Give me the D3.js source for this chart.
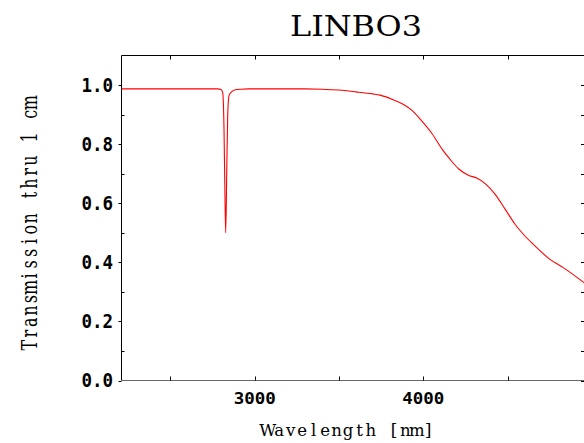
<!DOCTYPE html>
<html><head><meta charset="utf-8">
<script src="https://cdn.jsdelivr.net/npm/d3@7"></script>
<style>body{margin:0;background:#fff;}svg{display:block;}</style>
</head><body>
<svg id="c" width="584" height="443"></svg>
<script>
const titleText = "LINBO3";
const xTitle = "Wavelength [nm]";
const yTitle = "Transmission thru 1 cm";
const wavelength = [2210,2780,2800,2810,2818,2823,2828,2834,2840,2848,2860,2880,2920,2960,3300,3400,3500,3600,3700,3743,3822,3880,3931,3990,4050,4109,4158,4212,4267,4317,4372,4425,4485,4544,4593,4652,4751,4830,4960];
const transmission = [0.987,0.987,0.985,0.975,0.85,0.65,0.50,0.70,0.90,0.965,0.975,0.983,0.986,0.987,0.987,0.986,0.983,0.977,0.970,0.966,0.950,0.935,0.915,0.879,0.837,0.785,0.749,0.715,0.695,0.685,0.664,0.631,0.580,0.529,0.495,0.461,0.410,0.382,0.328];
const xMajor = [3000, 4000];
const xMinor = [2500, 3000, 3500, 4000, 4500];
const yMajor = [0, 0.2, 0.4, 0.6, 0.8, 1.0];
const yMinor = [0.1, 0.3, 0.5, 0.7, 0.9];

const svg = d3.select("#c");
const x = d3.scaleLinear().domain([2210, 4960]).range([121.5, 585.2]);
const y = d3.scaleLinear().domain([0, 1.1]).range([380.5, 55.5]);
const [x0, x1] = x.range();
const [yb, yt] = y.range();
const serif = "'DejaVu Serif', serif";

// frame
svg.append("line").attr("x1", x0).attr("x2", 600).attr("y1", yt).attr("y2", yt).attr("stroke", "#000");
svg.append("line").attr("x1", x0).attr("x2", x0).attr("y1", yt).attr("y2", yb).attr("stroke", "#000");
svg.append("line").attr("x1", x0).attr("x2", 600).attr("y1", yb).attr("y2", yb).attr("stroke", "#666");

// x ticks
svg.selectAll(".xtb").data(xMinor).join("line")
  .attr("x1", d => Math.round(x(d)) + 0.5).attr("x2", d => Math.round(x(d)) + 0.5)
  .attr("y1", yb).attr("y2", yb - 4).attr("stroke", "#000");
svg.selectAll(".xtt").data(xMinor).join("line")
  .attr("x1", d => Math.round(x(d)) + 0.5).attr("x2", d => Math.round(x(d)) + 0.5)
  .attr("y1", yt).attr("y2", yt + 4).attr("stroke", "#000");

// y ticks
svg.selectAll(".ytm").data(yMajor).join("line")
  .attr("x1", x0 - 3).attr("x2", x0).attr("y1", d => Math.round(y(d)) + 0.5).attr("y2", d => Math.round(y(d)) + 0.5)
  .attr("stroke", "#000");
svg.selectAll(".ytn").data(yMinor).join("line")
  .attr("x1", x0).attr("x2", x0 + 3).attr("y1", d => Math.round(y(d)) + 0.5).attr("y2", d => Math.round(y(d)) + 0.5)
  .attr("stroke", "#000");
svg.selectAll(".ytr").data(yMajor.concat(yMinor)).join("line")
  .attr("x1", 581).attr("x2", 584).attr("y1", d => Math.round(y(d)) + 0.5).attr("y2", d => Math.round(y(d)) + 0.5)
  .attr("stroke", "#000");

// tick labels
svg.selectAll(".ylab").data(yMajor).join("text")
  .attr("transform", d => `translate(113,${y(d)}) scale(1,1.1)`)
  .attr("text-anchor", "end").attr("dy", "0.36em")
  .attr("font-family", "DejaVu Sans Mono").attr("font-weight", "bold").attr("font-size", 17.5)
  .text(d => d.toFixed(1));
svg.selectAll(".xlab").data(xMajor).join("text")
  .attr("transform", d => `translate(${x(d)},403.5) scale(1,0.9)`)
  .attr("text-anchor", "middle")
  .attr("font-family", "DejaVu Sans Mono").attr("font-weight", "bold").attr("font-size", 17.5)
  .text(d => d);

// curve
const line = d3.line().x((d, i) => x(wavelength[i])).y(d => y(d)).curve(d3.curveMonotoneX);
svg.append("path").datum(transmission).attr("d", line)
  .attr("fill", "none").attr("stroke", "#ff0000").attr("stroke-width", 1.1);

// monospaced-cell serif text: each character centred in its own cell
function cellText(str, cell) {
  const n = str.length;
  return str.split("").map((c, i) => ((i - (n - 1) / 2) * cell).toFixed(2)).join(" ");
}
svg.append("text").attr("x", 290).attr("y", 35.5)
  .attr("textLength", 132).attr("lengthAdjust", "spacingAndGlyphs")
  .attr("font-family", serif).attr("font-size", 27.5).text(titleText);
svg.append("text").attr("transform", "translate(348,436)")
  .attr("x", cellText(xTitle, 11.47)).attr("text-anchor", "middle")
  .attr("font-family", serif).attr("font-size", 16.5).text(xTitle);
svg.append("text").attr("transform", "translate(36.5,224) rotate(-90) scale(1,1.35)")
  .attr("x", cellText(yTitle, 11.55)).attr("text-anchor", "middle")
  .attr("font-family", serif).attr("font-size", 16).text(yTitle);
</script>
</body></html>
